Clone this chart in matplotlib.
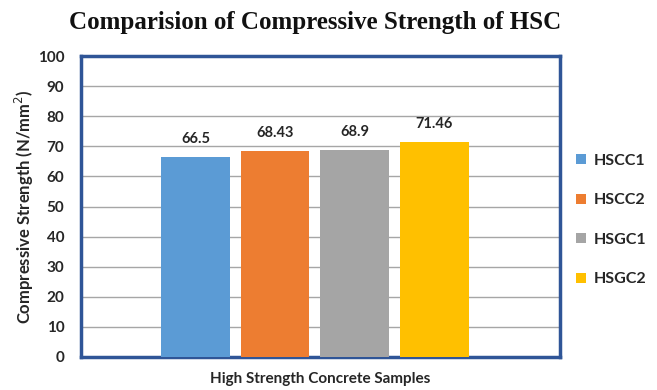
import matplotlib.pyplot as plt
from matplotlib.patches import Patch

samples = ["HSCC1", "HSCC2", "HSGC1", "HSGC2"]
strength = [66.5, 68.43, 68.9, 71.46]
colors = ["#5B9BD5", "#ED7D31", "#A5A5A5", "#FFC000"]
yticks = list(range(0, 101, 10))

fig = plt.figure(figsize=(6.57, 3.9), dpi=100)
ax = fig.add_axes([81 / 657, 1 - 357 / 390, 479 / 657, 301 / 390])

bar_w = 0.144
for i, (name, val, c) in enumerate(zip(samples, strength, colors)):
    x = 0.239 + 0.166 * i
    ax.bar(x, val, width=bar_w, color=c, label=name, zorder=3)
    ax.text(x, val + 3.5, f"{val:g}", ha="center", va="bottom",
            fontsize=10.5, fontweight="bold", color="#262626", family="Lato")

ax.set_xlim(0, 1)
ax.set_ylim(0, 100)
ax.set_yticks(yticks)
ax.set_xticks([])
ax.yaxis.grid(True, color="#A6A6A6", linewidth=1.0, zorder=0)
ax.tick_params(axis="y", length=0, pad=12, labelsize=11)
for lbl in ax.get_yticklabels():
    lbl.set_fontweight("bold")
    lbl.set_family("Lato")
    lbl.set_color("#262626")
for sp in ax.spines.values():
    sp.set_color("#2F5597")
    sp.set_linewidth(2.5)

ax.set_ylabel("Compressive Strength (N/mm$^2$)", fontsize=12, fontweight="bold",
              family="Lato", color="#262626", labelpad=1)
ax.set_xlabel("High Strength Concrete Samples", fontsize=11, fontweight="bold",
              family="Lato", color="#262626", labelpad=11)

fig.text(315 / 657, 1 - 22 / 390, "Comparision of Compressive Strength of HSC",
         ha="center", va="center", fontsize=18, fontweight="bold",
         family="Liberation Serif", color="#111111")

handles = [Patch(facecolor=c, label=n) for n, c in zip(samples, colors)]
leg = fig.legend(handles=handles, loc="center left",
                 bbox_to_anchor=(562 / 657, 1 - 220 / 390), frameon=False,
                 handlelength=0.6, handleheight=0.6, handletextpad=0.5,
                 labelspacing=1.6, prop={"family": "Lato", "weight": "bold", "size": 11.5})
for t in leg.get_texts():
    t.set_color("#262626")

fig.savefig("out.png", dpi=100)
